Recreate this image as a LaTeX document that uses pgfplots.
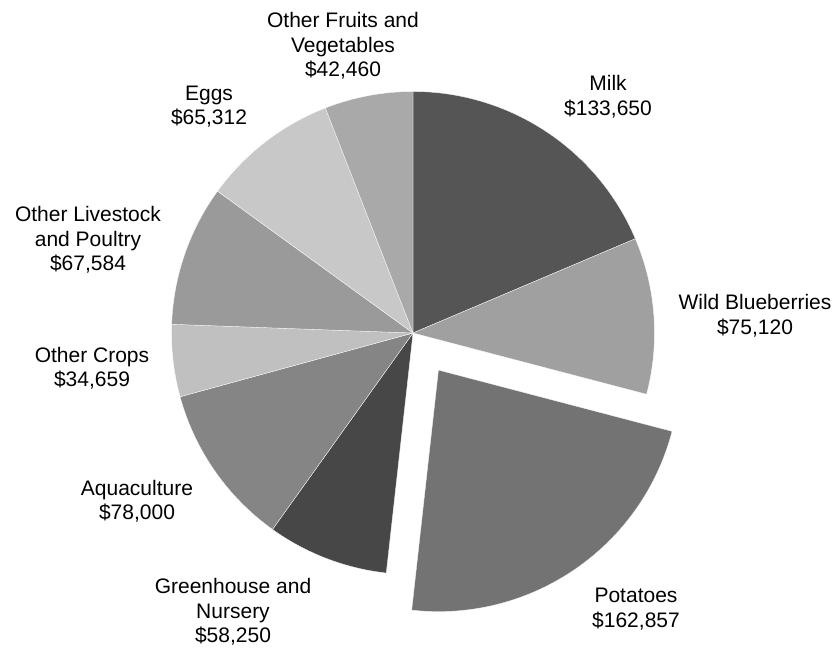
\documentclass[border=0pt]{standalone}
\usepackage{pgfplots}
\pgfplotsset{compat=1.18}
\usepackage{pgfplotstable}
\usepackage{fontspec}
\setmainfont{Liberation Sans}

% values in thousands of dollars, clockwise from the top; g = grey level 0..255
\pgfplotstableread[col sep=comma]{
name,value,g,explode
Milk,133.650,85,0
Wild Blueberries,75.120,160,0
Potatoes,162.857,115,45
Greenhouse and Nursery,58.250,71,0
Aquaculture,78.000,133,0
Other Crops,34.659,192,0
Other Livestock and Poultry,67.584,154,0
Eggs,65.312,200,0
Other Fruits and Vegetables,42.460,169,0
}\pietable

\begin{document}
\begin{tikzpicture}
\useasboundingbox (0,0) rectangle (834pt,648pt);
\begin{axis}[
   hide axis, scale only axis,
   width=834pt, height=648pt,
   xmin=0, xmax=834, ymin=0, ymax=648,
   clip=false
]
% total
\def\total{0}
\pgfplotsforeachungrouped \i in {0,...,8} {
   \pgfplotstablegetelem{\i}{value}\of\pietable
   \pgfmathsetmacro\total{\total+\pgfplotsretval}
}
\def\startang{90}
\pgfplotsforeachungrouped \i in {0,...,8} {
   \pgfplotstablegetelem{\i}{value}\of\pietable \let\v=\pgfplotsretval
   \pgfplotstablegetelem{\i}{g}\of\pietable \let\g=\pgfplotsretval
   \pgfplotstablegetelem{\i}{explode}\of\pietable \let\e=\pgfplotsretval
   \pgfmathsetmacro\endang{\startang-\v/\total*360}
   \pgfmathsetmacro\midang{(\startang+\endang)/2}
   \edef\temp{\noexpand\fill[color={rgb,255:red,\g;green,\g;blue,\g}, draw=white, line width=0.3pt]
      (axis cs:413,315) ++(\midang:\e pt) -- ++(\startang:241.5pt)
      arc[start angle=\startang, end angle=\endang, radius=241.5pt] -- cycle;}
   \temp
   \let\startang=\endang
}

\tikzset{lbl/.style={align=center, font=\fontsize{21}{24.5}\selectfont}}
\node[lbl] at (axis cs:343,602) {Other Fruits and\\Vegetables\\\$42,460};
\node[lbl] at (axis cs:608,551.5) {Milk\\\$133,650};
\node[lbl] at (axis cs:755,332.5) {Wild Blueberries\\\$75,120};
\node[lbl] at (axis cs:636,39) {Potatoes\\\$162,857};
\node[lbl] at (axis cs:233,36) {Greenhouse and\\Nursery\\\$58,250};
\node[lbl] at (axis cs:137,147) {Aquaculture\\\$78,000};
\node[lbl] at (axis cs:92,280) {Other Crops\\\$34,659};
\node[lbl] at (axis cs:88,408) {Other Livestock\\and Poultry\\\$67,584};
\node[lbl] at (axis cs:209,541.5) {Eggs\\\$65,312};
\end{axis}
\end{tikzpicture}
\end{document}
